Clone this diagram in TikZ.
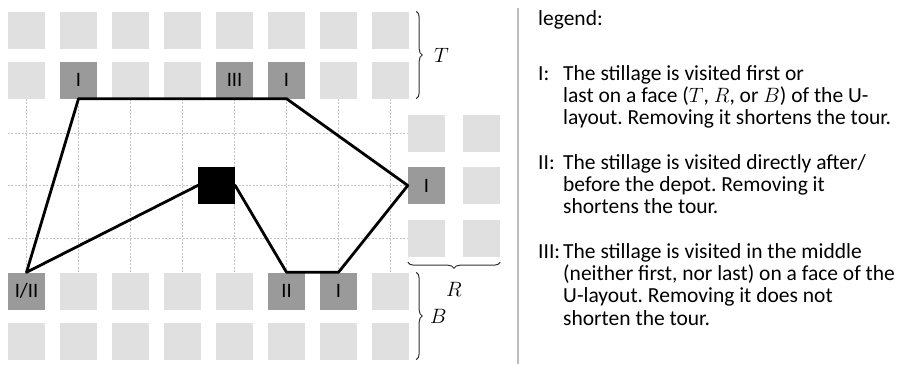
\documentclass[tikz,border=0pt]{standalone}
\usepackage{fontspec}
\setmainfont{Carlito}
\usepackage{tikz}
\usetikzlibrary{positioning}
\usetikzlibrary{decorations.pathreplacing}
\frenchspacing

\definecolor{stilLight}{HTML}{E0E0E0}
\definecolor{stilDark}{HTML}{9A9A9A}
\definecolor{gridGray}{HTML}{C4C4C4}
\definecolor{sepGray}{HTML}{BDBDBD}

\begin{document}
\begin{tikzpicture}[x=1pt,y=-1pt,
    stillage/.style={fill=stilLight,minimum size=37pt,inner sep=0pt,font=\fontsize{20.5}{21}\selectfont},
    marked/.style={stillage,fill=stilDark},
    depotbox/.style={fill=black,minimum size=37pt,inner sep=0pt},
    gridline/.style={gridGray,line width=0.7pt,dash pattern=on 2pt off 1.5pt},
    tour/.style={line width=2.8pt,line join=round},
    facebrace/.style={decorate,decoration={brace,amplitude=6pt},line width=1pt,black!80},
    facelabel/.style={text=black,font=\fontsize{21}{24}\selectfont},
    legendtext/.style={inner sep=0pt,anchor=base west,font=\fontsize{21.5}{22.4}\selectfont}]
    \useasboundingbox (0,0) rectangle (899,364);
    % top face and bottom face
    \foreach \i in {1,...,8} {
      \node[stillage] (ta\i) at ({26.5+52*(\i-1)},30) {};
      \node[stillage] (bb\i) at ({26.5+52*(\i-1)},341) {};
    }
    \foreach \i in {1,3,4,7,8}
      \node[stillage] (tb\i) at ({26.5+52*(\i-1)},80) {};
    \node[marked] (tb2) at (78.5,80) {I};
    \node[marked] (tb5) at (234.5,80) {III};
    \node[marked] (tb6) at (286.5,80) {I};
    \foreach \i in {2,3,4,5,8}
      \node[stillage] (ba\i) at ({26.5+52*(\i-1)},291) {};
    \node[marked] (ba1) at (26.5,291) {I/II};
    \node[marked] (ba6) at (286.5,291) {II};
    \node[marked] (ba7) at (338.5,291) {I};
    % right face
    \node[stillage] (r11) at (426.5,133) {};
    \node[marked] (r12) at (426.5,185.5) {I};
    \node[stillage] (r13) at (426.5,238.5) {};
    \node[stillage] (r21) at (481.5,133) {};
    \node[stillage] (r22) at (481.5,185.5) {};
    \node[stillage] (r23) at (481.5,238.5) {};
    % aisle grid
    \foreach \i in {1,...,8}
      \draw[gridline] (tb\i.south) -- (ba\i.north);
    \foreach \k in {1,2,3}
      \draw[gridline] (ta1.west |- r1\k.west) -- (r1\k.west);
    \node[depotbox] (depot) at (216.5,185.5) {};
    % the tour
    \draw[tour] (tb2.south) -- (tb6.south) -- (r12.west) -- (ba7.north) -- (ba6.north)
      -- (depot.east) -- (depot.west) -- (ba1.north) -- cycle;
    % faces
    \draw[facebrace] ([xshift=7pt]ta8.north east) -- ([xshift=7pt]tb8.south east)
      node[facelabel,midway,right=14pt] (labT) {$T$};
    \draw[facebrace,decoration={mirror}] ([yshift=-5pt]r13.south west) -- ([yshift=-5pt]r23.south east)
      node[facelabel,midway,below=16pt] (labR) {$R$};
    \draw[facebrace] ([xshift=7pt]ba8.north east) -- ([xshift=7pt]bb8.south east)
      node[facelabel,midway,right=10pt] (labB) {$B$};
    % legend
    \draw[sepGray,line width=1.5pt] (518,8) -- (518,364);
    \node[legendtext] (legend) at (538,25) {legend:};
    \node[legendtext] (entryI) at (538,80) {\begin{tabular}[t]{@{}p{25pt}@{}l@{}}
      I: & The stillage is visited first or\\
         & last on a face ($T$, $R$, or $B$) of the U-\\
         & layout. Removing it shortens the tour.\end{tabular}};
    \node[legendtext] (entryII) at (538,169) {\begin{tabular}[t]{@{}p{25pt}@{}l@{}}
      II: & The stillage is visited directly after/\\
          & before the depot. Removing it\\
          & shortens the tour.\end{tabular}};
    \node[legendtext] (entryIII) at (538,258) {\begin{tabular}[t]{@{}p{25pt}@{}l@{}}
      III: & The stillage is visited in the middle\\
           & (neither first, nor last) on a face of the\\
           & U-layout. Removing it does not\\
           & shorten the tour.\end{tabular}};
\end{tikzpicture}
\end{document}
